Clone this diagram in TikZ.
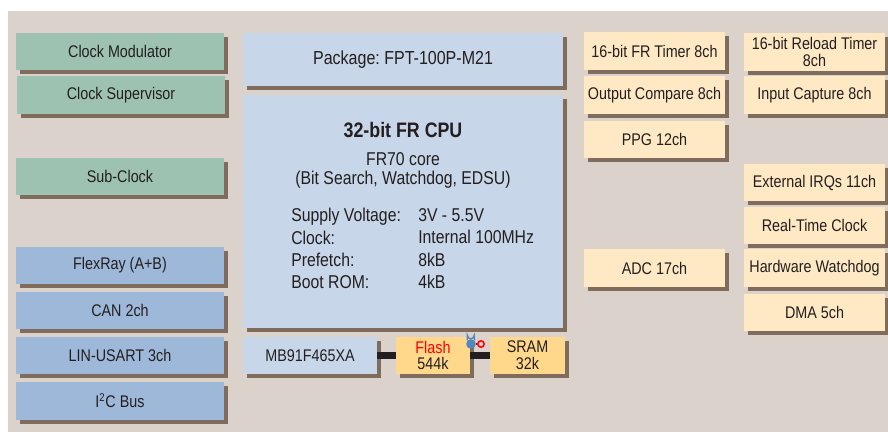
\documentclass[tikz,border=0pt]{standalone}
\usepackage{fontspec}
\setmainfont[FakeStretch=0.85]{Liberation Sans}
\usetikzlibrary{shadows}
\definecolor{bgc}{RGB}{220,210,204}
\definecolor{shadowc}{RGB}{128,108,92}
\definecolor{greenc}{RGB}{158,194,178}
\definecolor{bluec}{RGB}{157,184,216}
\definecolor{paleblue}{RGB}{200,214,233}
\definecolor{creamc}{RGB}{255,233,196}
\definecolor{orangec}{RGB}{255,216,140}
\definecolor{textc}{RGB}{35,31,32}
\definecolor{lockc}{RGB}{80,135,190}
\tikzset{
blk/.style={inner sep=0pt, text=textc, align=center, font=\fontsize{12}{12}\selectfont,
  drop shadow={shadow xshift=0.1cm, shadow yshift=-0.1cm, fill=shadowc, opacity=1}},
txt/.style={inner sep=0pt, text=textc},
wide/.style={blk, minimum width=5.2cm, minimum height=0.925cm},
clk/.style={wide, fill=greenc},
bus/.style={wide, fill=bluec},
per/.style={blk, fill=creamc, minimum width=3.53cm, minimum height=0.925cm},
mem/.style={blk, fill=orangec, minimum width=1.85cm, minimum height=0.9cm}
}
\begin{document}
\frenchspacing
\begin{tikzpicture}[x=0.025cm, y=-0.025cm]
\useasboundingbox (0,0) rectangle (888,432);
\fill[bgc] (8,11) rectangle (888,432);

% ---------- LEFT ----------
\node[clk] (clkmod) at (120,51.5) {Clock Modulator};
\node[clk] (clksup) at (121,95) {Clock Supervisor};
\node[clk] (subclk) at (120,176.5) {Sub-Clock};
\node[bus] (flexray) at (120,265.5) {FlexRay (A+B)};
\node[bus] (can) at (120,310.5) {CAN 2ch};
\node[bus] (lin) at (120,355.5) {LIN-USART 3ch};
\node[bus] (i2c) at (120,401) {I\textsuperscript{2}C Bus};

% ---------- CENTRE ----------
\node[blk, fill=paleblue, minimum width=8cm, minimum height=1.325cm] (pkg) at (403,59.5) {\fontsize{13.4}{14}\selectfont Package: FPT-100P-M21};
\node[blk, fill=paleblue, minimum width=8cm, minimum height=5.825cm] (cpu) at (403,211.5) {};
\node[txt, font=\fontsize{14.9}{15}\selectfont\bfseries] (cputitle) at (403,130.5) {32-bit FR CPU};
\node[txt, font=\fontsize{13.2}{13.2}\selectfont, align=center] (cpucore) at (403,170.5) {FR70 core\\(Bit Search, Watchdog, EDSU)};
\node[txt, font=\fontsize{13.2}{15.8}\selectfont, align=left, anchor=west] (cpukeys) at (291,248.5) {Supply Voltage:\\Clock:\\Prefetch:\\Boot ROM:};
\node[txt, font=\fontsize{13.2}{15.8}\selectfont, align=left, anchor=west] (cpuvals) at (418,248.5) {3V - 5.5V\\Internal 100MHz\\8kB\\4kB};

\node[blk, fill=paleblue, minimum width=3.35cm, minimum height=0.9cm] (mcu) at (310,355.5) {MB91F465XA};
\node[mem] (flash) at (433,355.5) {\textcolor{red}{Flash}\\544k};
\node[mem] (sram) at (527.5,355.5) {SRAM\\32k};

% bus bars
\draw[line width=0.18cm, textc] (mcu) -- (flash);
\draw[line width=0.18cm, textc] (flash) -- (sram);

% lock
\node[circle, fill=lockc, minimum size=0.24cm, inner sep=0pt] (lockbody) at (471,344) {};
\node[circle, draw=red, line width=1.1pt, minimum size=0.16cm, inner sep=0pt] (keyring) at (481,344) {};
\draw[line width=1pt, lockc] (lockbody.north west) -- ++(0,-5) arc[start angle=180, end angle=0, radius=3.4] -- (lockbody.north east);
\draw[line width=1.2pt, red!85!black] (lockbody) -- (keyring);

% ---------- RIGHT ----------
\node[per] (frtimer) at (654.5,51) {16-bit FR Timer 8ch};
\node[per] (outcomp) at (654.5,95) {Output Compare 8ch};
\node[per] (ppg) at (654.5,139.5) {PPG 12ch};
\node[per] (adc) at (654.5,268) {ADC 17ch};
\node[per] (rltimer) at (814.5,52) {16-bit Reload Timer\\8ch};
\node[per] (incap) at (814.5,95) {Input Capture 8ch};
\node[per] (extirq) at (814.5,182.5) {External IRQs 11ch};
\node[per] (rtc) at (814.5,225.5) {Real-Time Clock};
\node[per] (hwwd) at (814.5,268) {Hardware Watchdog};
\node[per] (dma) at (814.5,312.5) {DMA 5ch};
\end{tikzpicture}
\end{document}
